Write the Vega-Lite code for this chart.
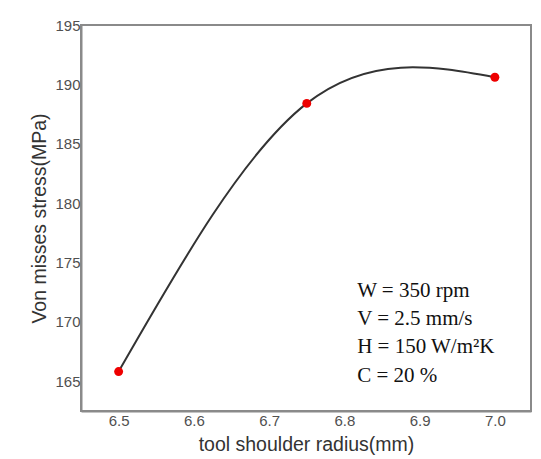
{
  "$schema": "https://vega.github.io/schema/vega-lite/v6.json",
  "autosize": {"type": "none"},
  "width": 450,
  "height": 386,
  "padding": {"left": 81, "top": 25, "right": 10, "bottom": 48},
  "background": "white",
  "config": {
    "view": {"stroke": "#8a8a8a", "strokeWidth": 2},
    "axis": {
      "labelFont": "Liberation Sans",
      "titleFont": "Liberation Sans",
      "labelColor": "#505050",
      "titleColor": "#333333",
      "labelFontSize": 15,
      "titleFontSize": 19.5,
      "titleFontWeight": "normal",
      "ticks": false,
      "grid": false,
      "domainColor": "#8a8a8a",
      "domainWidth": 2
    }
  },
  "datasets": {
    "pts": [
      {"r": 6.5, "s": 165.82},
      {"r": 6.75, "s": 188.4},
      {"r": 7.0, "s": 190.6}
    ],
    "notes": [
      {"r": 6.817, "s": 172.12, "t": "W = 350 rpm"},
      {"r": 6.817, "s": 169.77, "t": "V = 2.5 mm/s"},
      {"r": 6.817, "s": 167.41, "t": "H = 150 W/m²K"},
      {"r": 6.817, "s": 164.97, "t": "C = 20 %"}
    ]
  },
  "layer": [
    {
      "data": {"name": "pts"},
      "mark": {"type": "line", "interpolate": "natural", "color": "#333333", "strokeWidth": 2},
      "encoding": {
        "x": {"field": "r", "type": "quantitative", "scale": {"domain": [6.45, 7.048], "nice": false, "zero": false},
              "axis": {"values": [6.5, 6.6, 6.7, 6.8, 6.9, 7.0], "format": ".1f", "labelPadding": 2, "titlePadding": 7, "title": "tool shoulder radius(mm)"}},
        "y": {"field": "s", "type": "quantitative", "scale": {"domain": [162.5, 195], "nice": false, "zero": false},
              "axis": {"values": [165, 170, 175, 180, 185, 190, 195], "labelPadding": 1, "titlePadding": 5, "title": "Von misses stress(MPa)"}}
      }
    },
    {
      "data": {"name": "pts"},
      "mark": {"type": "point", "filled": true, "color": "#ee0000", "opacity": 1, "size": 80},
      "encoding": {
        "x": {"field": "r", "type": "quantitative"},
        "y": {"field": "s", "type": "quantitative"}
      }
    },
    {
      "data": {"name": "notes"},
      "mark": {"type": "text", "align": "left", "baseline": "alphabetic", "font": "Liberation Serif", "fontSize": 21, "color": "#111111"},
      "encoding": {
        "x": {"field": "r", "type": "quantitative"},
        "y": {"field": "s", "type": "quantitative"},
        "text": {"field": "t"}
      }
    }
  ]
}
